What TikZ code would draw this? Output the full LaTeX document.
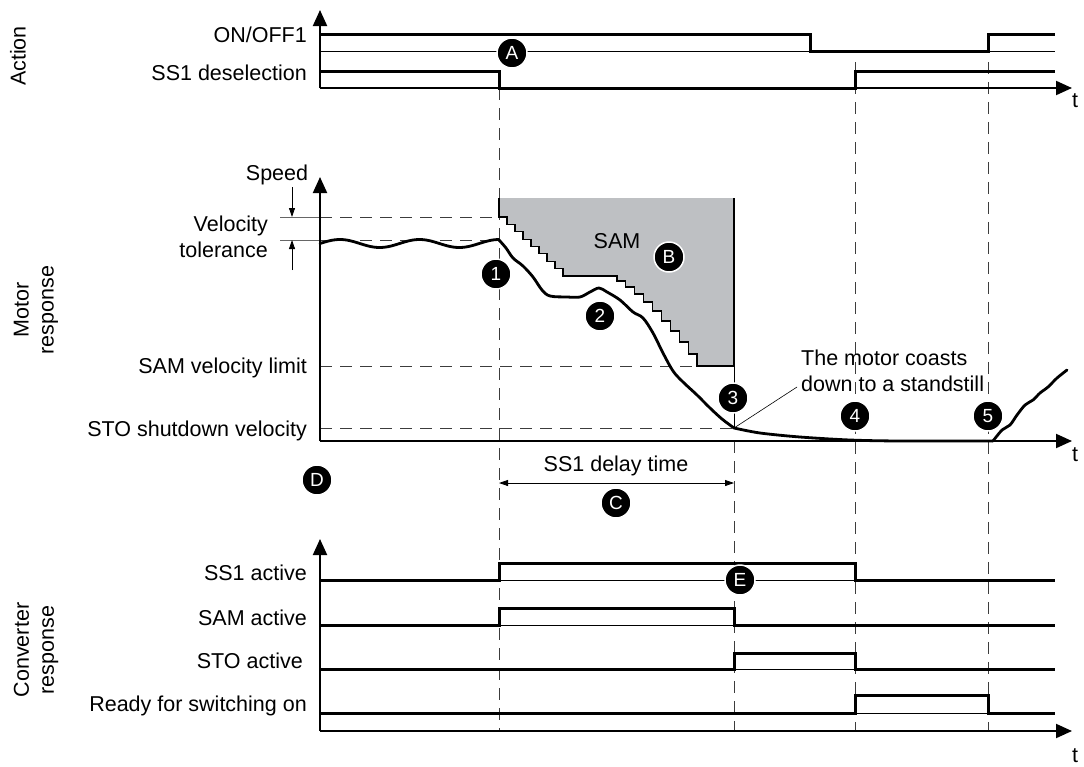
\documentclass[tikz,border=0pt]{standalone}
\usepackage{fontspec}
\setmainfont{Liberation Sans}
\usetikzlibrary{arrows.meta}
\definecolor{samgray}{RGB}{190,192,195}
\definecolor{dashgray}{RGB}{60,60,60}
\begin{document}
\begin{tikzpicture}[x=1pt,y=-1pt,
  every node/.style={font=\fontsize{21.5}{26}\selectfont},
  lbl/.style={anchor=base east, inner sep=0pt},
  txt/.style={anchor=base, inner sep=0pt},
  sig/.style={line width=3pt, line join=miter},
  base/.style={line width=1pt},
  axis/.style={line width=2pt, -{Triangle[length=16pt,width=14pt]}},
  vdash/.style={line width=1pt, draw=dashgray, dash pattern=on 12pt off 8pt},
  num/.style={circle, fill=black, draw=white, line width=1.5pt, text=white, minimum size=30pt, inner sep=0pt, font=\fontsize{19}{22}\selectfont},
  dimarrow/.style={line width=0.8pt, {Triangle[length=9pt,width=6pt]}-{Triangle[length=9pt,width=6pt]}},
  onearrow/.style={line width=0.8pt, -{Triangle[length=9pt,width=6pt]}},
  curve/.style={line width=2.8pt, line cap=round, line join=round},
]
\useasboundingbox (0,0) rectangle (1084,766);

% ---------- vertical dashed time markers ----------
\draw[vdash] (499,88) -- (499,731);
\draw[vdash] (734,441) -- (734,731);
\draw[vdash] (855,62) -- (855,731);
\draw[vdash] (988,62) -- (988,731);

% ---------- Motor: horizontal reference lines ----------
\draw[line width=0.8pt, draw=black!60] (280,217) -- (320,217);
\draw[line width=0.8pt, draw=black!60] (280,240) -- (320,240);
\draw[vdash] (320,217) -- (499,217);
\draw[vdash] (320,240) -- (499,240);
\draw[vdash] (320,366) -- (697,366);
\draw[vdash] (320,428) -- (734,428);
\draw[line width=1pt] (734,366) -- (734,428);
\draw[onearrow] (292,187) -- (292,217);
\draw[onearrow] (292,270) -- (292,240);

% ---------- SAM area ----------
\fill[samgray] (499,198) -- (499,217)
  \foreach \i in {1,...,8}{ -- ++(8,0) -- ++(0,7.375) }
  -- (617,276)
  \foreach \h in {5,6,7,8,9,10,10,11,12}{ -- ++(0,\h) -- ++(8.889,0) }
  -- ++(0,12) -- (734,366) -- (734,198) -- cycle;
\draw[line width=1.2pt, line join=miter] (499,198) -- (499,217)
  \foreach \i in {1,...,8}{ -- ++(8,0) -- ++(0,7.375) }
  -- (617,276)
  \foreach \h in {5,6,7,8,9,10,10,11,12}{ -- ++(0,\h) -- ++(8.889,0) }
  -- ++(0,12) -- (734,366) -- (734,198);

% ---------- thin baselines ----------
\draw[base] (320,51) -- (1055,51);
\draw[base] (499,580) -- (855,580);
\draw[base] (499,625) -- (734,625);
\draw[base] (734,669) -- (855,669);
\draw[base] (855,713) -- (988,713);

% ---------- Action signals ----------
\draw[sig] (320,34) -- (810,34) -- (810,51) -- (988,51) -- (988,34) -- (1055,34);
\draw[sig] (320,71) -- (499,71) -- (499,88) -- (855,88) -- (855,71) -- (1055,71);

% ---------- Converter signals ----------
\draw[sig] (320,580) -- (499,580) -- (499,563) -- (855,563) -- (855,580) -- (1055,580);
\draw[sig] (320,625) -- (499,625) -- (499,608) -- (734,608) -- (734,625) -- (1055,625);
\draw[sig] (320,669) -- (734,669) -- (734,653) -- (855,653) -- (855,669) -- (1055,669);
\draw[sig] (320,713) -- (855,713) -- (855,695) -- (988,695) -- (988,713) -- (1055,713);

% ---------- speed curve ----------
\draw[curve] plot[domain=320:499, samples=80] (\x, {243.5-4*sin((\x-320)*4.5226)});
\draw[curve] plot[smooth, tension=0.55] coordinates {(499,240) (506,248) (513,258) (523,266) (533,277) (542,290) (550,296) (567,297) (580,297) (590,292) (599,288) (607,292) (620,300) (633,312) (643,318) (653,333) (663,353) (673,371) (683,382) (697,395) (710,408) (722,419) (734,428)};
\draw[curve] plot[smooth, tension=0.5] coordinates {(734,428) (760,433) (800,437) (850,440) (900,441) (993,441)};
\draw[curve] plot[smooth, tension=0.5] coordinates {(993,441) (1002,430) (1010,425) (1017,415) (1025,405) (1033,400) (1040,393) (1048,387) (1057,378) (1067,370)};

% ---------- axes ----------
\draw[axis] (320,88) -- (320,10);
\draw[axis] (320,88) -- (1072,88);
\draw[axis] (320,441) -- (320,177);
\draw[axis] (320,441) -- (1072,441);
\draw[axis] (320,731) -- (320,539);
\draw[axis] (320,731) -- (1072,731);
\node (t1) at (1075,101) {t};
\node (t2) at (1075,455) {t};
\node (t3) at (1075,756) {t};

% ---------- SS1 delay time ----------
\coordinate (dA) at (499,483);
\coordinate (dB) at (734,483);
\draw[dimarrow] (dA) -- (dB);
\node[txt] (delay) at (616,471) {SS1 delay time};

% ---------- leader ----------
\coordinate (coast) at (734,428);
\coordinate (coastend) at (797,387);
\draw[line width=0.6pt] (coast) -- (coastend);
\node[anchor=base west, inner sep=0pt] (coast1) at (801,365) {The motor coasts};
\node[anchor=base west, inner sep=0pt] (coast2) at (801,391) {down to a standstill};

% ---------- labels ----------
\node[rotate=90] (action) at (18,56) {Action};
\node[rotate=90, align=center] (motor) at (36,310) {Motor\\[-1pt]response};
\node[rotate=90, align=center] (conv) at (36,650) {Converter\\[-1pt]response};
\node[lbl] (lonoff) at (307,42) {ON/OFF1};
\node[lbl] (lss1d) at (307,80) {SS1 deselection};
\node[txt] (lspeed) at (277,180) {Speed};
\node[lbl] (lvel) at (268,231) {Velocity};
\node[lbl] (ltol) at (268,257) {tolerance};
\node[lbl] (lsamv) at (307,373) {SAM velocity limit};
\node[lbl] (lstov) at (307,436) {STO shutdown velocity};
\node[lbl] (lss1a) at (307,580) {SS1 active};
\node[lbl] (lsama) at (307,625) {SAM active};
\node[lbl] (lstoa) at (303,668) {STO active};
\node[lbl] (lrdy) at (307,711) {Ready for switching on};
\node[txt] (lsam) at (617,248) {SAM};

% ---------- markers ----------
\node[num] (mA) at (512,53) {A};
\node[num] (mB) at (669,257) {B};
\node[num] (mC) at (616,503) {C};
\node[num] (mD) at (317,480) {D};
\node[num] (mE) at (740,580) {E};
\node[num] (m1) at (496,274) {1};
\node[num] (m2) at (600,316) {2};
\node[num] (m3) at (733,398) {3};
\node[num] (m4) at (855,416) {4};
\node[num] (m5) at (988,416) {5};
\end{tikzpicture}
\end{document}
